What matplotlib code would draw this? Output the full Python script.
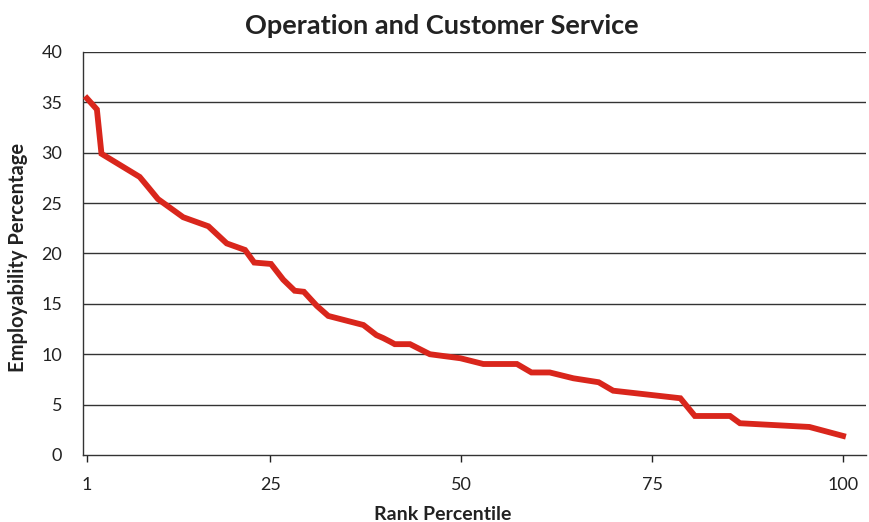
import matplotlib.pyplot as plt

# rank percentile vs employability percentage
rank = [1, 2.3, 2.9, 7.9, 9.0, 10.3, 13.6, 16.9, 19.3, 21.7, 22.9, 25.1, 26.7,
        28.2, 29.4, 31.1, 32.6, 37.2, 38.9, 39.8, 40.7, 41.3, 43.3, 45.9, 49.9,
        52.9, 57.3, 59.2, 61.6, 64.7, 68.0, 69.9, 78.7, 80.6, 85.2, 86.5, 95.6, 100]
employ = [35.4, 34.3, 29.9, 27.6, 26.6, 25.4, 23.6, 22.7, 21.0, 20.35, 19.1, 18.96, 17.4,
          16.3, 16.2, 14.8, 13.8, 12.9, 11.9, 11.6, 11.25, 11.0, 11.0, 10.0, 9.6,
          9.03, 9.03, 8.19, 8.19, 7.61, 7.22, 6.38, 5.63, 3.87, 3.87, 3.15, 2.78, 1.89]
xticks = [1, 25, 50, 75, 100]
yticks = [0, 5, 10, 15, 20, 25, 30, 35, 40]

plt.rcParams['font.family'] = ['Lato', 'DejaVu Sans']

fig = plt.figure(figsize=(8.69, 5.22), dpi=100)
ax = fig.add_axes([0.0955, 0.1284, 0.901, 0.772])

ax.plot(rank, employ, color='#D9261C', linewidth=4.2, solid_joinstyle='miter', zorder=3)

ax.set_xlim(0.48, 103.0)
ax.set_ylim(0, 40)
ax.set_xticks(xticks)
ax.set_xticklabels([str(t) for t in xticks])
ax.set_yticks(yticks)
ax.tick_params(axis='x', length=5, width=1, direction='out', pad=11, labelsize=13, colors='#222222')
ax.tick_params(axis='y', length=0, pad=15, labelsize=13, colors='#222222')

for y in yticks[1:]:
    ax.axhline(y, color='#333333', linewidth=1, zorder=1)

for s in ['top', 'right']:
    ax.spines[s].set_visible(False)
for s in ['left', 'bottom']:
    ax.spines[s].set_color('#333333')
    ax.spines[s].set_linewidth(1)

fig.text(442 / 869, 1 - 26 / 522, 'Operation and Customer Service', ha='center', va='center',
         fontsize=19.5, fontweight='bold', color='#222222')
fig.text(443 / 869, 1 - 514 / 522, 'Rank Percentile', ha='center', va='center',
         fontsize=14, fontweight='bold', color='#222222')
fig.text(18 / 869, 1 - 257 / 522, 'Employability Percentage', ha='center', va='center',
         rotation=90, fontsize=14.5, fontweight='bold', color='#222222')

fig.savefig('out.png', dpi=100)
